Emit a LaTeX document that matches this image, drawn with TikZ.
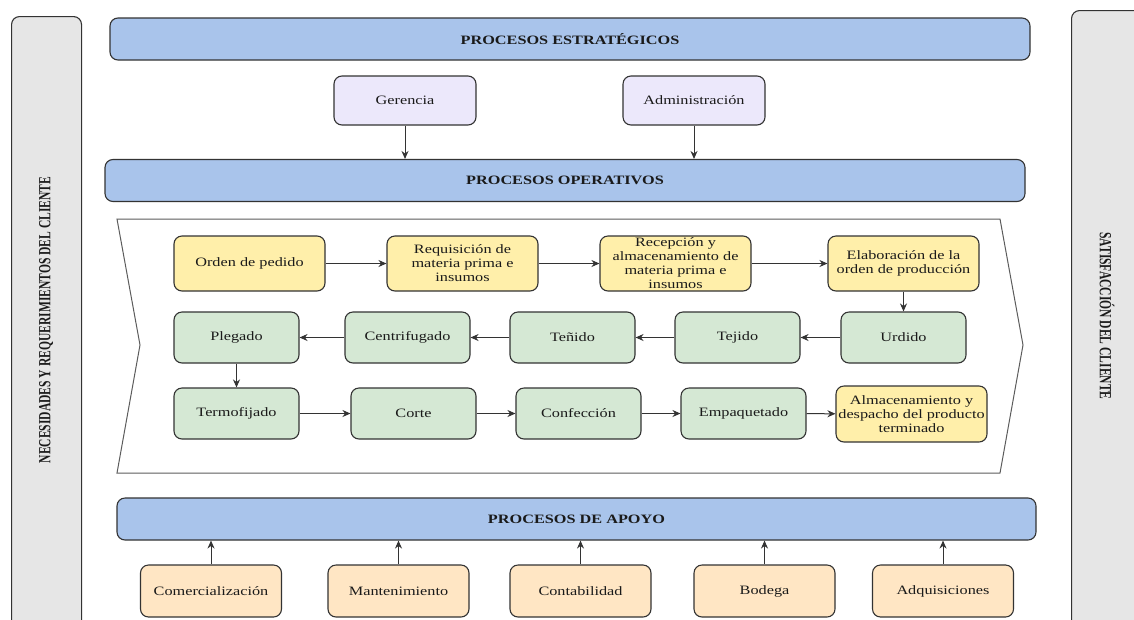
\documentclass[tikz,border=0pt]{standalone}
\usepackage{fontspec}
\setmainfont{Liberation Serif}
\newfontfamily\cajafont[FakeStretch=1.27]{Liberation Serif}
\newfontfamily\ladofont[FakeStretch=0.68]{Liberation Serif}
\usetikzlibrary{arrows.meta}

\definecolor{azul}{HTML}{A9C4EB}
\definecolor{lila}{HTML}{ECE8FB}
\definecolor{amarillo}{HTML}{FFEFAA}
\definecolor{verde}{HTML}{D5E8D4}
\definecolor{durazno}{HTML}{FFE6C4}
\definecolor{gris}{HTML}{E6E6E6}
\definecolor{borde}{HTML}{333333}
\definecolor{texto}{HTML}{1A1A1A}

\begin{document}
\begin{tikzpicture}[x=1pt,y=-1pt,
  caja/.style={draw=borde, line width=1.1pt, rounded corners=8pt, align=center,
    inner sep=0pt, text=texto, font=\cajafont\fontsize{12.8}{14}\selectfont},
  barra/.style={caja, fill=azul, minimum width=920pt, minimum height=42pt,
    font=\cajafont\bfseries\fontsize{12.8}{14}\selectfont},
  estr/.style={caja, fill=lila, minimum width=142pt, minimum height=49pt},
  pedido/.style={caja, fill=amarillo, minimum width=151pt, minimum height=55pt},
  etapa/.style={caja, fill=verde, minimum width=125pt, minimum height=51pt},
  apoyo/.style={caja, fill=durazno, minimum width=141pt, minimum height=52pt},
  lado/.style={draw=borde, line width=1.1pt, fill=gris, rounded corners=8pt,
    minimum width=70pt, minimum height=640pt, anchor=north west},
  ladotxt/.style={text=texto, font=\ladofont\bfseries\fontsize{17}{17}\selectfont},
  flecha/.style={-{Stealth[length=8pt,width=7pt]}, line width=1pt, draw=borde}]
\useasboundingbox (0,0) rectangle (1134,619);

% columnas laterales
\node[lado] (necesidades) at (11,16) {};
\node[lado] (satisfaccion) at (1071,10) {};
\node[ladotxt, rotate=90] (necTxt) at (46,320) {NECESIDADES Y REQUERIMIENTOS DEL CLIENTE};
\node[ladotxt, rotate=-90] (satTxt) at (1107,316) {SATISFACCIÓN DEL CLIENTE};

% estrategicos
\node[barra] (estrategicos) at (570,39) {PROCESOS ESTRATÉGICOS};
\node[estr] (gerencia) at (405,100.5) {Gerencia};
\node[estr] (administracion) at (694,100.5) {Administración};

% operativos
\node[barra] (operativos) at (565,180.5) {PROCESOS OPERATIVOS};
\draw[flecha] (gerencia) -- (gerencia |- operativos.north);
\draw[flecha] (administracion) -- (administracion |- operativos.north);

\draw[draw=borde!80, fill=white, line width=1pt] (117,219) -- (1000,219) -- (1023,345)
  -- (1000,473) -- (117,473) -- (140,345) -- cycle;

\node[pedido] (ped) at (249.5,263.5) {Orden de pedido};
\node[pedido] (req) at (462.5,263.5) {Requisición de\\materia prima e\\insumos};
\node[pedido] (rec) at (675.5,263.5) {Recepción y\\almacenamiento de\\materia prima e\\insumos};
\node[pedido] (ela) at (903.5,263.5) {Elaboración de la\\orden de producción};

\node[etapa] (ple) at (236.5,337.5) {Plegado};
\node[etapa] (cen) at (407.5,337.5) {Centrifugado};
\node[etapa] (ten) at (572.5,337.5) {Teñido};
\node[etapa] (tej) at (737.5,337.5) {Tejido};
\node[etapa] (urd) at (903.5,337.5) {Urdido};

\node[etapa] (ter) at (236.5,413.5) {Termofijado};
\node[etapa] (cor) at (413.5,413.5) {Corte};
\node[etapa] (con) at (578.5,413.5) {Confección};
\node[etapa] (emp) at (743.5,413.5) {Empaquetado};
\node[pedido, minimum height=56pt] (alm) at (911.5,414) {Almacenamiento y\\despacho del producto\\terminado};

\foreach \a/\b in {ped/req, req/rec, rec/ela, ela/urd, urd/tej, tej/ten, ten/cen,
  cen/ple, ple/ter, ter/cor, cor/con, con/emp, emp/alm}
  \draw[flecha] (\a) -- (\b);

% apoyo
\node[barra, minimum width=919pt] (apoyoBar) at (576.5,519) {PROCESOS DE APOYO};
\foreach \x/\n/\t in {211/com/Comercialización, 398.5/man/Mantenimiento,
  580.5/cont/Contabilidad, 764.5/bod/Bodega, 943/adq/Adquisiciones} {
  \node[apoyo] (\n) at (\x,591) {\t};
  \draw[flecha] (\n) -- (\n |- apoyoBar.south);
}
\end{tikzpicture}
\end{document}
